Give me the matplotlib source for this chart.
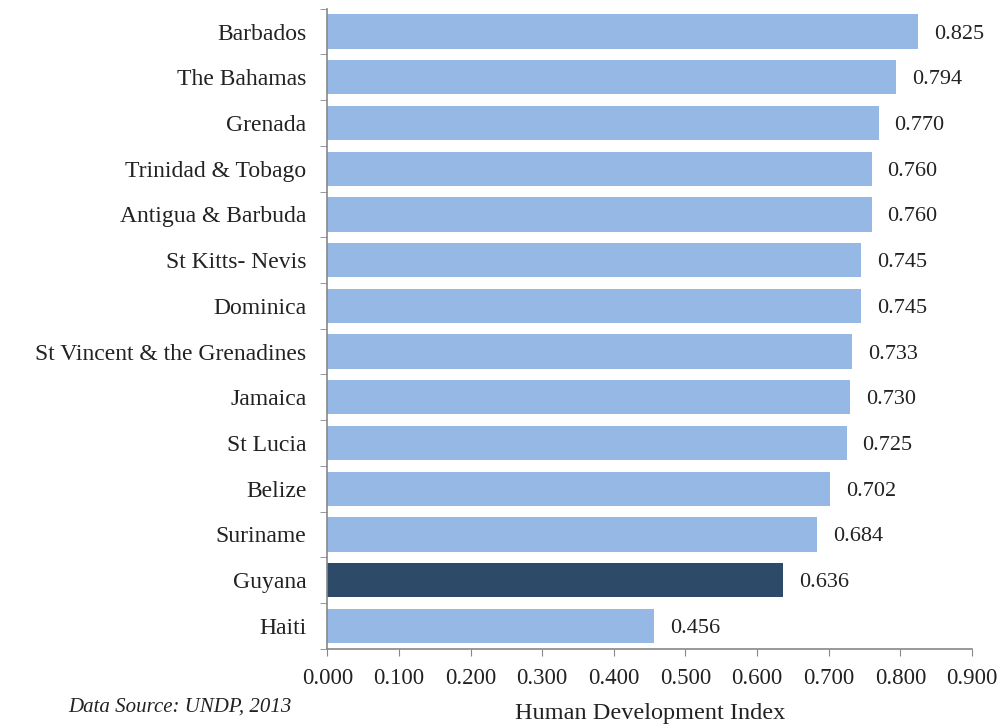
import matplotlib.pyplot as plt
import numpy as np

plt.rcParams['font.family'] = ['Liberation Serif', 'DejaVu Serif']

countries = ['Barbados', 'The Bahamas', 'Grenada', 'Trinidad & Tobago', 'Antigua & Barbuda',
             'St Kitts- Nevis', 'Dominica', 'St Vincent & the Grenadines', 'Jamaica', 'St Lucia',
             'Belize', 'Suriname', 'Guyana', 'Haiti']
hdi = [0.825, 0.794, 0.770, 0.760, 0.760, 0.745, 0.745, 0.733, 0.730, 0.725,
       0.702, 0.684, 0.636, 0.456]
highlight = 'Guyana'

light = '#95B9E4'
dark = '#2E4A69'
colors = [dark if c == highlight else light for c in countries]

fig = plt.figure(figsize=(10.01, 7.28), dpi=100)
ax = fig.add_axes([0.327, 0.109, 0.644, 0.879])

y = np.arange(len(countries))
ax.barh(y, hdi, height=0.75, color=colors)
ax.set_ylim(len(countries) - 0.5, -0.5)
ax.set_xlim(0, 0.9)

# valeurs au bout des barres
for yi, v in zip(y, hdi):
    ax.text(v + 0.022, yi, f'{v:.3f}', va='center_baseline', ha='left', fontsize=16, color='#222222')

ax.set_yticks(y)
ax.set_yticklabels(countries, fontsize=17, color='#222222')
ax.set_yticks(np.arange(len(countries) + 1) - 0.5, minor=True)
ax.tick_params(axis='y', which='major', length=0, pad=15)
ax.tick_params(axis='y', which='minor', length=5, color='#888888', direction='out')

ticks = np.arange(0, 0.91, 0.1)
ax.set_xticks(ticks)
ax.set_xticklabels([f'{t:.3f}' for t in ticks], fontsize=16.5, color='#222222')
ax.tick_params(axis='x', length=5, color='#888888', direction='out', pad=9)

for s in ['top', 'right']:
    ax.spines[s].set_visible(False)
for s in ['left', 'bottom']:
    ax.spines[s].set_color('#888888')
    ax.spines[s].set_linewidth(1.2)

ax.set_xlabel('Human Development Index', fontsize=17.5, color='#222222', labelpad=10)
fig.text(0.068, 0.022, 'Data Source: UNDP, 2013', fontsize=15, style='italic', color='#222222')

plt.savefig('out.png', dpi=100)
